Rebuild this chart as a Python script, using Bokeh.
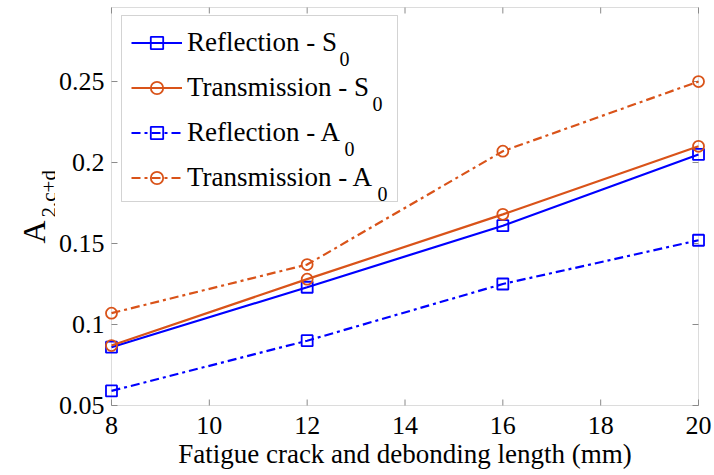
import math
from bokeh.plotting import figure
from bokeh.layouts import row
from bokeh.core.properties import value
from bokeh.models import (Range1d, FixedTicker, Legend, LegendItem, Label,
                          BoxAnnotation)
from bokeh.embed import file_html
from bokeh.resources import INLINE

# Fatigue crack and debonding length (mm)
length_mm = [8, 12, 16, 20]

# Amplitude ratio A_{2,c+d} for each wave mode and direction
reflection_s0 = [0.086, 0.123, 0.161, 0.205]
transmission_s0 = [0.087, 0.128, 0.168, 0.210]
reflection_a0 = [0.059, 0.090, 0.125, 0.152]
transmission_a0 = [0.107, 0.137, 0.207, 0.250]

x_ticks = [8, 10, 12, 14, 16, 18, 20]
y_ticks = [0.05, 0.1, 0.15, 0.2, 0.25]
y_tick_labels = ["0.05", "0.1", "0.15", "0.2", "0.25"]
x_lim = (8, 20)
y_lim = (0.05, 0.2957)

legend_names = ["Reflection - S", "Transmission - S",
                "Reflection - A", "Transmission - A"]
legend_subs = ["0", "0", "0", "0"]
y_title = "A"
y_title_sub = "2,c+d"

BLUE = "#0000FF"
RED = "#D95319"
SPINE = "#8a8a8a"
FONT = "Liberation Serif"
DASHDOT = "9 4 3 4"

# Layout (pixels): title strip on the left, then the axes box
H = 475
LABEL_W = 55
PLOT_W = 714 - LABEL_W
BORDER_TOP = 6
BORDER_BOTTOM = 69
PX_PER_X = 49.0      # pixels per mm
PX_PER_Y = 1620.0    # pixels per unit of A
X_PAD = 7 / PX_PER_X  # room so edge markers are not cut
Y_PAD = 1 / PX_PER_Y

p = figure(width=PLOT_W, height=H, output_backend="svg", toolbar_location=None,
           x_range=Range1d(x_lim[0] - X_PAD, x_lim[1] + X_PAD),
           y_range=Range1d(y_lim[0] - Y_PAD, y_lim[1] + Y_PAD),
           min_border_left=103 - LABEL_W, min_border_right=9,
           min_border_top=BORDER_TOP, min_border_bottom=BORDER_BOTTOM)
p.xgrid.visible = False
p.ygrid.visible = False
p.outline_line_color = None
p.background_fill_color = "white"
p.border_fill_color = "white"

for ax in (p.xaxis[0], p.yaxis[0]):
    ax.axis_line_color = None
    ax.major_tick_line_color = None
    ax.minor_tick_line_color = None
    ax.major_tick_in = 0
    ax.major_tick_out = 0
    ax.major_label_text_font = FONT
    ax.major_label_text_font_size = "26px"
    ax.major_label_text_color = "black"

xa = p.xaxis[0]
xa.ticker = FixedTicker(ticks=x_ticks)
xa.major_label_standoff = 10
xa.axis_label = "Fatigue crack and debonding length (mm)"
xa.axis_label_text_font = FONT
xa.axis_label_text_font_size = "27px"
xa.axis_label_text_font_style = "normal"
xa.axis_label_text_color = "black"
xa.axis_label_standoff = 2

ya = p.yaxis[0]
ya.ticker = FixedTicker(ticks=y_ticks)
ya.major_label_standoff = 0
ya.major_label_overrides = {t: s for t, s in zip(y_ticks, y_tick_labels)}

# Axes box
p.add_layout(BoxAnnotation(left=x_lim[0], right=x_lim[1], bottom=y_lim[0],
                           top=y_lim[1], fill_color=None, line_color=SPINE,
                           line_width=1, level="underlay"))

# Inward tick marks on all four sides of the box
TICK = 6
p.ray(x=x_ticks, y=[y_lim[0]] * len(x_ticks), length=TICK, angle=math.pi / 2,
      length_units="screen", line_color=SPINE, line_width=1)
p.ray(x=x_ticks, y=[y_lim[1]] * len(x_ticks), length=TICK, angle=-math.pi / 2,
      length_units="screen", line_color=SPINE, line_width=1)
p.ray(x=[x_lim[0]] * len(y_ticks), y=y_ticks, length=TICK, angle=0,
      length_units="screen", line_color=SPINE, line_width=1)
p.ray(x=[x_lim[1]] * len(y_ticks), y=y_ticks, length=TICK, angle=math.pi,
      length_units="screen", line_color=SPINE, line_width=1)

# Series
series = [
    (reflection_s0, BLUE, "solid", "square"),
    (transmission_s0, RED, "solid", "circle"),
    (reflection_a0, BLUE, DASHDOT, "square"),
    (transmission_a0, RED, DASHDOT, "circle"),
]

items = []
for (vals, col, dash, marker), name in zip(series, legend_names):
    ln = p.line(length_mm, vals, line_color=col, line_width=2.2, line_dash=dash)
    mk = p.scatter(length_mm, vals, marker=marker, size=11, line_color=col,
                   line_width=1.8, fill_color=None)
    items.append(LegendItem(label=name, renderers=[ln, mk]))

# Legend frame drawn as a box behind the legend entries
p.add_layout(BoxAnnotation(left=17, right=293, top=391, bottom=205,
                           left_units="screen", right_units="screen",
                           top_units="screen", bottom_units="screen",
                           fill_color="white", fill_alpha=1.0,
                           line_color="#6e6e6e", line_width=1,
                           level="annotation"))

legend = Legend(items=items, location=(27, 213), padding=10, spacing=14,
                label_height=31, glyph_height=31, glyph_width=51,
                label_standoff=5, label_text_font=FONT,
                label_text_font_size="27px", label_text_color="black",
                label_text_baseline="alphabetic",
                border_line_color=None, background_fill_alpha=0.0,
                margin=0)
p.add_layout(legend, "center")

# Subscripts after the legend texts
sub_x = [235, 268, 240, 273]
for i, (sx, s) in enumerate(zip(sub_x, legend_subs)):
    p.add_layout(Label(x=sx, y=348 - 45 * i, x_units="screen", y_units="screen",
                       text=s, text_font=FONT, text_font_size="20px",
                       text_color="black", text_baseline="alphabetic"))

# Y axis title strip: A with subscript 2,c+d, written bottom to top.
# Its frame lines up with the main frame; y here counts pixels up from the
# bottom edge of the page.
lab = figure(width=LABEL_W, height=H, output_backend="svg",
             toolbar_location=None, x_range=Range1d(0, LABEL_W),
             y_range=Range1d(BORDER_BOTTOM, H - BORDER_TOP),
             min_border_left=0, min_border_right=0,
             min_border_top=BORDER_TOP, min_border_bottom=BORDER_BOTTOM,
             outline_line_color=None)
lab.axis.visible = False
lab.grid.visible = False
lab.background_fill_color = "white"
lab.border_fill_color = "white"
lab.text(x=[33], y=[232], text=[y_title], angle=math.pi / 2,
         text_font=value(FONT), text_font_size="32px", text_color="black",
         text_baseline="alphabetic", text_align="left")
lab.text(x=[48], y=[258], text=[y_title_sub], angle=math.pi / 2,
         text_font=value(FONT), text_font_size="21px", text_color="black",
         text_baseline="alphabetic", text_align="left")

layout = row(lab, p, spacing=0)
open("out.html", "w").write(file_html(layout, INLINE))
